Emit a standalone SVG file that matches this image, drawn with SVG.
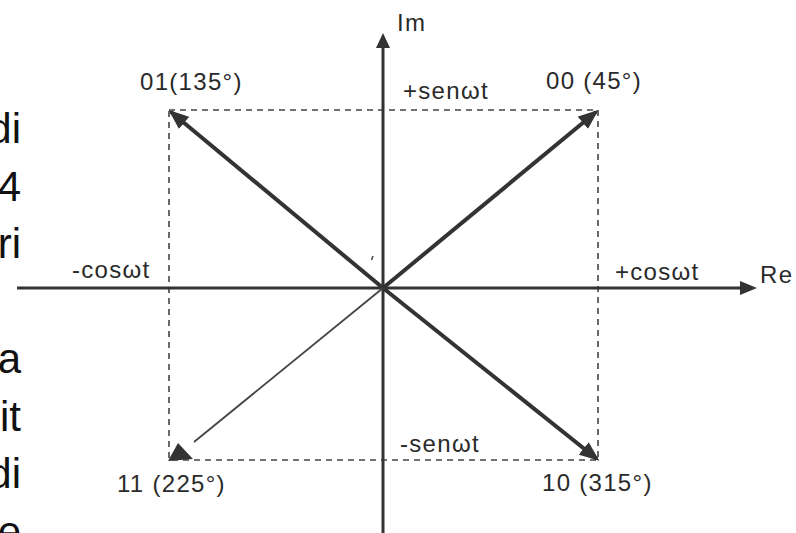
<svg xmlns="http://www.w3.org/2000/svg" width="796" height="533" viewBox="0 0 796 533">
<style>
.side{font-family:"Liberation Sans",Arial,sans-serif;font-size:42px;fill:#111;text-anchor:end}
.lbl{font-family:"Liberation Sans",Arial,sans-serif;font-size:24px;fill:#2a2a2a;letter-spacing:1.3px}
.axis{stroke:#333;stroke-width:3;fill:none}
.vec{stroke:#333;stroke-width:4;fill:none;marker-end:url(#ah)}
.thin{stroke:#444;stroke-width:1.8;fill:none}
.dash{stroke:#444;stroke-width:1.6;fill:none;stroke-dasharray:6 5}
.head{fill:#333}
</style>
<defs>
<marker id="ah" markerUnits="userSpaceOnUse" markerWidth="20" markerHeight="16" refX="17" refY="8" orient="auto">
<path d="M0,0 L20,8 L0,16 z" fill="#333"/>
</marker>
</defs>
<rect width="796" height="533" fill="#fff"/>
<g id="side-text">
<text class="side" x="21" y="143">di</text>
<text class="side" x="21" y="201">4</text>
<text class="side" x="21" y="258">ri</text>
<text class="side" x="21" y="373">a</text>
<text class="side" x="21" y="431">it</text>
<text class="side" x="21" y="488">di</text>
<text class="side" x="21" y="546">e</text>
</g>
<g id="connectors">
<rect class="dash" x="169" y="110" width="429" height="350"/>
<line class="axis" x1="383" y1="44" x2="383" y2="533"/>
<polygon class="head" points="383,33 376,48 390,48"/>
<line class="axis" x1="17" y1="288" x2="745" y2="288"/>
<polygon class="head" points="757,288 740,281 740,295"/>
<line class="vec" x1="383" y1="288" x2="596" y2="112"/>
<line class="vec" x1="383" y1="288" x2="171" y2="112"/>
<line class="vec" x1="383" y1="288" x2="597" y2="459"/>
<line class="thin" x1="383" y1="288" x2="194" y2="442"/>
<polygon class="head" points="168,461 178,443 193,459"/>
<line stroke="#444" stroke-width="1.5" x1="371.5" y1="260" x2="373" y2="256"/>
</g>
<g id="node-00"><text class="lbl" x="546" y="89">00 (45°)</text></g>
<g id="node-01"><text class="lbl" x="140" y="90">01(135°)</text></g>
<g id="node-10"><text class="lbl" x="542" y="491">10 (315°)</text></g>
<g id="node-11"><text class="lbl" x="117" y="492">11 (225°)</text></g>
<g id="axis-labels">
<text class="lbl" x="397" y="31">Im</text>
<text class="lbl" x="760" y="283">Re</text>
<text class="lbl" x="403" y="99">+senωt</text>
<text class="lbl" x="400" y="452">-senωt</text>
<text class="lbl" x="72" y="278">-cosωt</text>
<text class="lbl" x="615" y="280">+cosωt</text>
</g>
</svg>
